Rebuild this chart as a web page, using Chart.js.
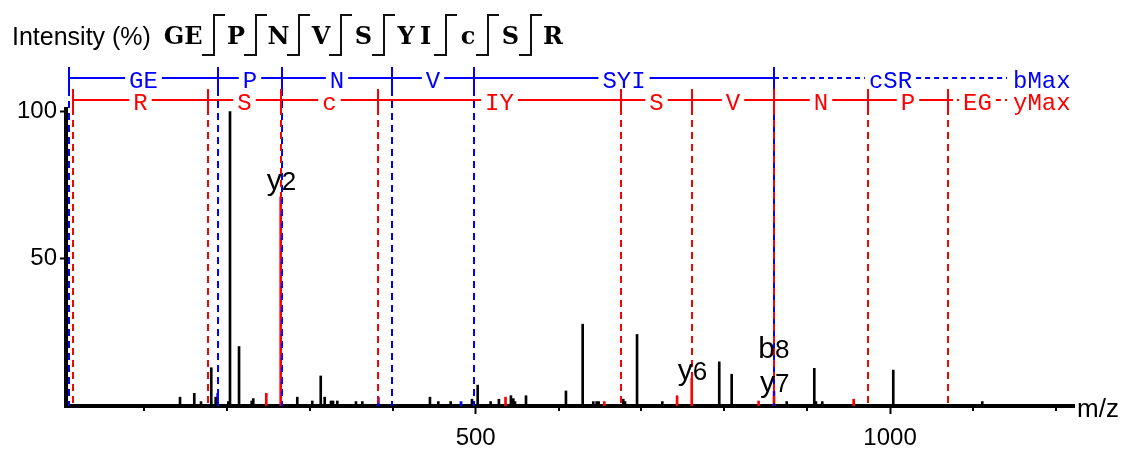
<!DOCTYPE html>
<html><head><meta charset="utf-8">
<script src="https://cdn.jsdelivr.net/npm/chart.js@4.4.1/dist/chart.umd.min.js"></script>
<style>html,body{margin:0;padding:0;background:#fff;}canvas{display:block}</style>
</head><body>
<canvas id="c" width="1134" height="451" style="width:1134px;height:451px"></canvas>
<script>
// ---- data ----
const sequenceGroups = ['GE','P','N','V','S','YI','c','S','R'];
const bIonLabels = ['GE','P','N','V','SYI','cSR'];
const bIonMz = [9.2, 189.0, 266.2, 399.0, 497.9, 860.0];
const yIonLabels = ['R','S','c','IY','S','V','N','P','EG'];
const yIonMz = [14.0, 177.0, 265.0, 382.1, 675.3, 761.0, 860.0, 973.4, 1069.9];
const maxMz = 1141;
const peakMz = [143.2,160.4,168.5,180.9,186.2,201.5,203.5,214.4,229.7,231.6,284.7,302.8,313.0,317.8,325.4,327.8,333.0,355.5,363.2,444.8,454.9,469.8,495.5,502.4,518.0,528.0,542.5,545.4,547.4,560.7,608.9,629.1,641.9,646.0,648.4,678.1,680.2,694.7,725.2,793.9,808.9,875.3,908.6,910.6,918.2,1003.9,1111.3];
const peakIntensity = [3,4.3,1.5,13,3,1.5,100,20.2,1.7,2.5,3,1.7,10.2,3,1.7,1.7,1.7,1.5,1.5,3,1.5,1.5,2.3,7.1,1.5,2.3,3.5,2.5,1.5,3.5,5.1,27.8,1.5,1.5,1.5,2.3,1.5,24.3,1.5,15,10.8,1.5,12.8,1.5,1.5,12.2,1.5];
const yMatchMz = [247.3, 264.7, 536.0, 655.2, 743.0, 760.7, 841.4, 860.0, 956.1];
const yMatchIntensity = [4.3, 71, 3, 1.5, 3.5, 9.4, 1.7, 5, 2.3];
const bMatchMz = [188.6, 382.5, 482.3];
const bMatchIntensity = [4.3, 3, 1.5];
const ionLabelLetter = ['y','y','b','y'];
const ionLabelNumber = ['2','6','8','7'];
const ionLabelMz = [264.7, 760.7, 860.0, 860.0];
const ionLabelLevel = [73.4, 8.8, 16.2, 4.9];
const xTickValues = [100,200,300,400,500,600,700,800,900,1000,1100,1200];
const xTickLabels = ['500','1000'];
const yTickValues = [50,100];
const yTickLabels = ['50','100'];

const RED = '#ff0000', BLUE = '#0000ff';
const SANS = '"Liberation Sans", Arial, sans-serif';
const MONO = '"Liberation Mono", "Courier New", monospace';
const SERIF = '"DejaVu Serif", "Liberation Serif", serif';

const annot = {
  id: 'annot',
  afterDatasetsDraw(chart) {
    const {ctx, chartArea, scales: {x, y}} = chart;
    const base = y.getPixelForValue(0);
    const rowB = chartArea.top - 31, rowY = chartArea.top - 9;
    const px = m => Math.round(x.getPixelForValue(m));
    ctx.save();
    ctx.lineWidth = 2;
    function vline(mz, color, row, off) {
      const p = px(mz);
      ctx.strokeStyle = color;
      ctx.setLineDash([]);
      ctx.beginPath(); ctx.moveTo(p, row - 11); ctx.lineTo(p, row + 11); ctx.stroke();
      ctx.setLineDash([7, 5]); ctx.lineDashOffset = off;
      ctx.beginPath(); ctx.moveTo(p, row + 11); ctx.lineTo(p, base); ctx.stroke();
      ctx.lineDashOffset = 0;
    }
    bIonMz.forEach(m => vline(m, BLUE, rowB, 0));
    yIonMz.forEach(m => vline(m, RED, rowY, 3));

    function row(mzs, labels, rp, color, endText) {
      ctx.font = '24px ' + MONO;
      ctx.textBaseline = 'alphabetic'; ctx.textAlign = 'center';
      ctx.fillStyle = color; ctx.strokeStyle = color;
      const n = mzs.length;
      let x1 = 0;
      for (let i = 0; i < n; i++) {
        const x0 = px(mzs[i]);
        x1 = px(i < n - 1 ? mzs[i + 1] : maxMz);
        const lab = labels[i];
        const w = ctx.measureText(lab).width;
        const cx = (x0 + x1) / 2;
        ctx.setLineDash(i === n - 1 ? [5, 4] : []);
        ctx.beginPath(); ctx.moveTo(x0, rp); ctx.lineTo(cx - w / 2 - 4, rp); ctx.stroke();
        ctx.beginPath(); ctx.moveTo(cx + w / 2 + 4, rp); ctx.lineTo(x1, rp); ctx.stroke();
        ctx.fillText(lab, cx, rp + 10);
      }
      ctx.setLineDash([]);
      ctx.textAlign = 'left';
      ctx.fillText(endText, x1 + 6, rp + 10);
    }
    row(bIonMz, bIonLabels, rowB, BLUE, 'bMax');
    row(yIonMz, yIonLabels, rowY, RED, 'yMax');

    // ion labels
    ctx.fillStyle = '#000';
    ctx.textBaseline = 'alphabetic';
    for (let i = 0; i < ionLabelMz.length; i++) {
      const p = x.getPixelForValue(ionLabelMz[i]);
      const b = y.getPixelForValue(ionLabelLevel[i]);
      ctx.font = '30px ' + SANS; ctx.textAlign = 'right';
      ctx.fillText(ionLabelLetter[i], p + 1, b);
      ctx.font = '26px ' + SANS; ctx.textAlign = 'left';
      ctx.fillText(ionLabelNumber[i], p + 1, b);
    }
    ctx.restore();
  },
  afterDraw(chart) {
    const {ctx, chartArea, scales: {x}} = chart;
    ctx.save();
    // minor x ticks
    ctx.strokeStyle = '#000'; ctx.lineWidth = 2;
    xTickValues.forEach(v => {
      if (xTickLabels.includes(String(v))) return;
      const p = Math.round(x.getPixelForValue(v));
      ctx.beginPath(); ctx.moveTo(p, chartArea.bottom); ctx.lineTo(p, chartArea.bottom + 5); ctx.stroke();
    });
    ctx.fillStyle = '#000';
    ctx.font = '26px ' + SANS;
    ctx.textAlign = 'left'; ctx.textBaseline = 'middle';
    ctx.fillText('m/z', chartArea.right + 3, chartArea.bottom + 4);
    ctx.font = '25px ' + SANS;
    ctx.textBaseline = 'alphabetic';
    ctx.fillText('Intensity (%)', 12, 45);
    // sequence header
    const top = 15, bot = 55, base = 44;
    let cur = 174;
    ctx.font = 'bold 24px ' + SERIF; ctx.textAlign = 'center';
    ctx.strokeStyle = '#111'; ctx.lineWidth = 2;
    sequenceGroups.forEach((g, gi) => {
      for (let j = 0; j < g.length; j++) {
        ctx.fillText(g[j], cur, base);
        if (j < g.length - 1) cur += 19.5;
      }
      if (gi < sequenceGroups.length - 1) {
        cur += 20;
        const c = Math.round(cur);
        ctx.beginPath();
        ctx.moveTo(c - 12, bot); ctx.lineTo(c, bot); ctx.lineTo(c, top); ctx.lineTo(c + 11, top);
        ctx.stroke();
        cur += 22.5;
      }
    });
    ctx.restore();
  }
};

const toPts = (xs, ys) => xs.map((v, i) => ({x: v, y: ys[i]}));

new Chart(document.getElementById('c'), {
  type: 'bar',
  data: {
    datasets: [
      {data: toPts(peakMz, peakIntensity), backgroundColor: '#000'},
      {data: toPts(yMatchMz, yMatchIntensity), backgroundColor: RED},
      {data: toPts(bMatchMz, bMatchIntensity), backgroundColor: BLUE}
    ]
  },
  options: {
    responsive: false, animation: false, devicePixelRatio: 1,
    layout: {padding: {left: 0, right: 60, top: 109, bottom: 0}},
    plugins: {legend: {display: false}, tooltip: {enabled: false}},
    datasets: {bar: {barThickness: 2, grouped: false}},
    scales: {
      x: {
        type: 'linear', min: 5.6, max: 1222, offset: false,
        afterFit: s => { s.height = 45; },
        afterBuildTicks: s => { s.ticks = xTickValues.map(v => ({value: v})); },
        border: {display: true, width: 4, color: '#000'},
        grid: {drawOnChartArea: false, drawTicks: true, tickLength: 8, tickWidth: 2, offset: false,
               tickColor: c => (c.tick && xTickLabels.includes(String(c.tick.value))) ? '#000' : 'rgba(0,0,0,0)'},
        ticks: {autoSkip: false, maxRotation: 0, padding: 10, color: '#000',
                font: {family: SANS, size: 24},
                callback: v => xTickLabels.includes(String(v)) ? String(v) : ''}
      },
      y: {
        min: 0, max: 100.9,
        afterFit: s => { s.width = 66; },
        afterBuildTicks: s => { s.ticks = yTickValues.map(v => ({value: v})); },
        border: {display: true, width: 4, color: '#000'},
        grid: {drawOnChartArea: false, drawTicks: true, tickLength: 6, tickWidth: 2, tickColor: '#000'},
        ticks: {padding: 3, color: '#000', font: {family: SANS, size: 24},
                callback: v => yTickLabels.includes(String(v)) ? String(v) : ''}
      }
    }
  },
  plugins: [annot]
});
</script>
</body></html>
